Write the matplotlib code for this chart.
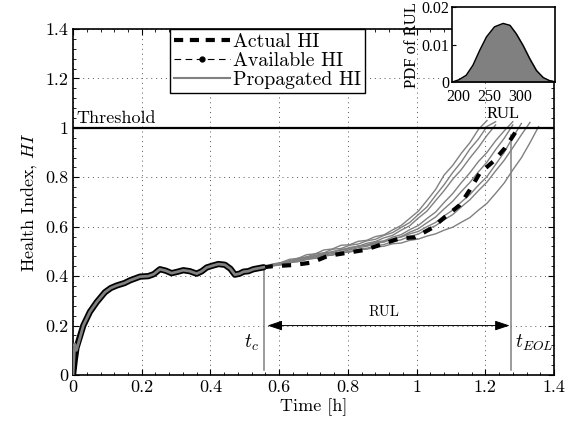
import numpy as np
import matplotlib
matplotlib.use('Agg')
import matplotlib.pyplot as plt
from matplotlib.ticker import MultipleLocator

plt.rcParams['font.family'] = 'serif'
plt.rcParams['font.serif'] = ['cmr10']
plt.rcParams['mathtext.fontset'] = 'cm'
plt.rcParams['axes.formatter.use_mathtext'] = True

# measured / available HI up to prediction time t_c
avail_t = [0, 0.005, 0.01, 0.03, 0.049, 0.069, 0.093, 0.11, 0.127, 0.15, 0.166, 0.195,
           0.219, 0.235, 0.253, 0.27, 0.287, 0.305, 0.321, 0.34, 0.36, 0.375, 0.389,
           0.405, 0.423, 0.442, 0.458, 0.471, 0.485, 0.496, 0.51, 0.525, 0.54, 0.555]
avail_hi = [0, 0.06, 0.11, 0.20, 0.255, 0.295, 0.335, 0.352, 0.362, 0.372, 0.383, 0.398,
            0.40, 0.408, 0.428, 0.422, 0.412, 0.418, 0.424, 0.42, 0.41, 0.42, 0.435,
            0.442, 0.449, 0.446, 0.43, 0.406, 0.41, 0.418, 0.42, 0.428, 0.432, 0.436]
# filtered estimate (starts with a small overshoot)
filt_hi = [0, 0.125, 0.10, 0.20, 0.255, 0.295, 0.335, 0.352, 0.362, 0.372, 0.383, 0.398,
           0.40, 0.408, 0.428, 0.422, 0.412, 0.418, 0.424, 0.42, 0.41, 0.42, 0.435,
           0.442, 0.449, 0.446, 0.43, 0.406, 0.41, 0.418, 0.42, 0.428, 0.432, 0.436]

# actual HI after t_c
actual_t = [0.555, 0.58, 0.641, 0.695, 0.742, 0.80, 0.849, 0.908, 0.951, 0.995, 1.044,
            1.083, 1.126, 1.155, 1.184, 1.223, 1.257, 1.289, 1.30]
actual_hi = [0.436, 0.44, 0.445, 0.455, 0.482, 0.495, 0.506, 0.533, 0.553, 0.557, 0.594,
             0.64, 0.688, 0.749, 0.817, 0.864, 0.918, 0.985, 1.0]

# propagated HI trajectories on a common time grid (each stops past threshold)
prop_t = [0.555, 0.58, 0.605, 0.63, 0.655, 0.68, 0.705, 0.73, 0.755, 0.78, 0.805,
          0.83, 0.855, 0.88, 0.905, 0.93, 0.955, 0.98, 1.005, 1.03, 1.055, 1.08,
          1.105, 1.13, 1.155, 1.18, 1.205, 1.23, 1.255, 1.28, 1.305, 1.33, 1.355]
prop_1 = [0.436, 0.449, 0.455, 0.468, 0.472, 0.487, 0.490, 0.506, 0.510, 0.525, 0.527,
          0.541, 0.545, 0.560, 0.567, 0.587, 0.605, 0.634, 0.663, 0.706, 0.750, 0.809,
          0.848, 0.897, 0.940, 0.994, 1.030]
prop_2 = [0.436, 0.444, 0.454, 0.460, 0.473, 0.477, 0.491, 0.494, 0.509, 0.512, 0.525,
          0.530, 0.543, 0.549, 0.565, 0.576, 0.597, 0.617, 0.649, 0.680, 0.726, 0.770,
          0.819, 0.862, 0.914, 0.955, 1.006, 1.025]
prop_3 = [0.436, 0.443, 0.453, 0.456, 0.468, 0.472, 0.485, 0.488, 0.500, 0.505, 0.516,
          0.521, 0.533, 0.540, 0.555, 0.565, 0.586, 0.604, 0.635, 0.663, 0.705, 0.746,
          0.792, 0.831, 0.878, 0.921, 0.970, 1.012]
prop_4 = [0.436, 0.445, 0.448, 0.461, 0.463, 0.476, 0.479, 0.492, 0.495, 0.508, 0.510,
          0.522, 0.526, 0.538, 0.543, 0.558, 0.568, 0.588, 0.605, 0.633, 0.659, 0.698,
          0.734, 0.778, 0.818, 0.864, 0.901, 0.948, 0.988, 1.025]
prop_5 = [0.436, 0.442, 0.449, 0.456, 0.463, 0.471, 0.477, 0.486, 0.491, 0.500, 0.506,
          0.515, 0.521, 0.532, 0.538, 0.551, 0.560, 0.578, 0.592, 0.616, 0.639, 0.672,
          0.703, 0.742, 0.779, 0.822, 0.862, 0.912, 0.958, 1.012]
prop_6 = [0.436, 0.446, 0.452, 0.463, 0.467, 0.479, 0.482, 0.494, 0.497, 0.508, 0.511,
          0.521, 0.524, 0.535, 0.540, 0.552, 0.558, 0.571, 0.581, 0.600, 0.617, 0.644,
          0.667, 0.700, 0.730, 0.768, 0.803, 0.852, 0.901, 0.962, 1.018]
prop_7 = [0.436, 0.441, 0.446, 0.454, 0.459, 0.467, 0.473, 0.481, 0.486, 0.495, 0.500,
          0.508, 0.513, 0.522, 0.528, 0.540, 0.547, 0.561, 0.570, 0.590, 0.604, 0.628,
          0.649, 0.680, 0.709, 0.746, 0.781, 0.826, 0.869, 0.920, 0.972, 1.022]
prop_8 = [0.436, 0.443, 0.446, 0.457, 0.459, 0.470, 0.472, 0.483, 0.485, 0.495, 0.497,
          0.507, 0.509, 0.518, 0.521, 0.531, 0.534, 0.545, 0.550, 0.562, 0.571, 0.586,
          0.598, 0.618, 0.637, 0.667, 0.695, 0.735, 0.777, 0.830, 0.879, 0.940, 1.005]
propagated = [prop_1, prop_2, prop_3, prop_4, prop_5, prop_6, prop_7, prop_8]

t_c = 0.556
t_eol = 1.274
threshold = 1.0

# RUL distribution (inset)
rul_x = [189, 193, 200, 212, 223, 234, 245, 258, 272, 283, 293, 304, 315, 326, 337, 347, 353, 356]
rul_pdf = [0, 0.0002, 0.0006, 0.0018, 0.0045, 0.0085, 0.0121, 0.0148, 0.0157, 0.0152,
           0.0130, 0.0099, 0.0063, 0.0031, 0.0012, 0.0004, 0.0002, 0]

main_ticks = [0, 0.2, 0.4, 0.6, 0.8, 1.0, 1.2, 1.4]
main_labels = ['0', '0.2', '0.4', '0.6', '0.8', '1', '1.2', '1.4']

gray = '#808080'

fig = plt.figure(figsize=(5.75, 4.34), dpi=100)
ax = fig.add_axes([0.127, 0.136, 0.8365, 0.797])

for hi in propagated:
    ax.plot(prop_t[:len(hi)], hi, color=gray, lw=1.0, zorder=3)
ax.plot(actual_t, actual_hi, color='black', lw=3, ls=(0, (2.2, 2.2)), zorder=4)
ax.plot(avail_t, avail_hi, color='black', lw=4.5, solid_capstyle='round', zorder=5)
ax.plot(avail_t, filt_hi, color=gray, lw=2.0, zorder=6)

# legend handles
ax.plot([], [], color='black', lw=3, ls=(0, (2.2, 1.6)), label='Actual HI')
ax.plot([], [], color='black', lw=0.8, ls=(0, (6, 4)), marker='.', markersize=7,
        label='Available HI')
ax.plot([], [], color=gray, lw=1.5, label='Propagated HI')

ax.axhline(threshold, color='black', lw=1.6, zorder=7)
ax.text(0.01, 1.008, 'Threshold', fontsize=13, ha='left', va='bottom')

ax.plot([t_c, t_c], [0.02, 0.43], color=gray, lw=1.1, zorder=2)
ax.plot([t_eol, t_eol], [0.02, 0.97], color=gray, lw=1.1, zorder=2)
ax.annotate('', xy=(t_eol - 0.003, 0.2), xytext=(t_c + 0.01, 0.2),
            arrowprops=dict(arrowstyle='<|-|>,head_length=0.9,head_width=0.3',
                            color='black', lw=0.7, shrinkA=0, shrinkB=0))
ax.text(0.905, 0.255, 'RUL', fontsize=10.5, ha='center', va='center')
ax.text(0.54, 0.13, '$t_c$', fontsize=14, ha='right', va='center')
ax.text(1.285, 0.13, '$t_{EOL}$', fontsize=14, ha='left', va='center')

ax.set_xlim(0, 1.4)
ax.set_ylim(0, 1.4)
ax.set_xticks(main_ticks)
ax.set_yticks(main_ticks)
ax.set_xticklabels(main_labels)
ax.set_yticklabels(main_labels)
ax.xaxis.set_minor_locator(MultipleLocator(0.04))
ax.yaxis.set_minor_locator(MultipleLocator(0.04))
ax.tick_params(which='both', direction='in', top=True, right=True, labelsize=13)
ax.tick_params(which='major', length=4, width=0.8)
ax.tick_params(which='minor', length=2, width=0.6)
ax.grid(True, which='major', color='#555555', ls=(0, (1, 4)), lw=0.7)
for s in ax.spines.values():
    s.set_linewidth(1.2)
ax.set_xlabel('Time [h]', fontsize=13, labelpad=2)
ax.set_ylabel('Health Index, $HI$', fontsize=13, labelpad=4)

leg = ax.legend(loc='upper left', bbox_to_anchor=(0.2017, 1.0), borderaxespad=0,
                fontsize=14.3, handlelength=2.8, handletextpad=0.15, labelspacing=0.05,
                borderpad=0.2, fancybox=False, framealpha=1, edgecolor='black')
leg.get_frame().set_linewidth(1.0)
leg.set_zorder(10)

# inset: RUL distribution
ins = fig.add_axes([0.786, 0.811, 0.179, 0.172])
ins.fill_between(rul_x, rul_pdf, color=gray, zorder=2)
ins.plot(rul_x, rul_pdf, color='black', lw=1.0, zorder=3)
ins.set_xlim(189, 356)
ins.set_ylim(0, 0.02)
ins.set_xticks([200, 250, 300])
ins.set_xticklabels(['200', '250', '300'])
ins.set_yticks([0, 0.01, 0.02])
ins.set_yticklabels(['0', '0.01', '0.02'])
ins.tick_params(direction='in', length=3, labelsize=11.5, pad=2)
ins.tick_params(axis='x', pad=5)
for lab in ins.get_xticklabels() + ins.get_yticklabels():
    lab.set_family('Liberation Serif')
for s in ins.spines.values():
    s.set_linewidth(1.2)
ins.set_xlabel('RUL', fontsize=12, family='Liberation Serif', labelpad=1)
ins.set_ylabel('PDF of RUL', fontsize=12, family='Liberation Serif', labelpad=1)

fig.savefig('out.png', dpi=100)
